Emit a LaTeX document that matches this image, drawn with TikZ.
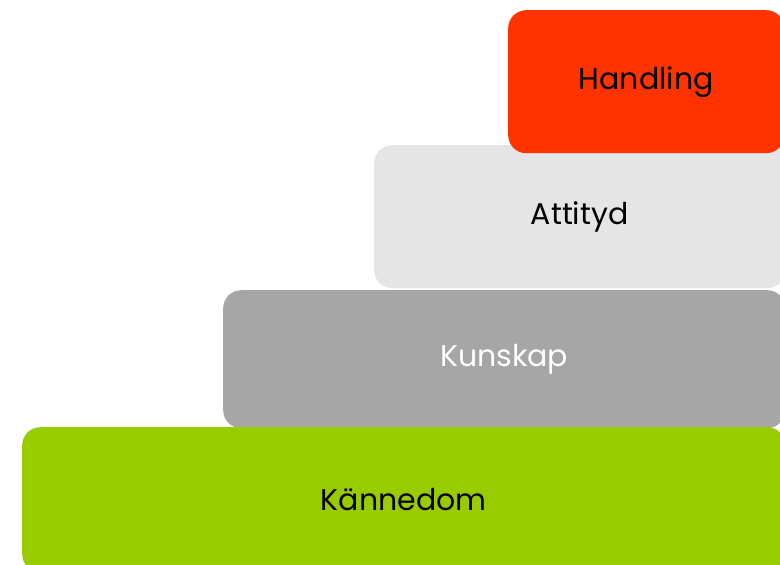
\documentclass[tikz,border=0pt]{standalone}
\usepackage{fontspec}
\setmainfont{Poppins}
\definecolor{handlingred}{HTML}{FF3300}
\definecolor{attitydgray}{HTML}{E5E5E5}
\definecolor{kunskapgray}{HTML}{A6A6A6}
\definecolor{kannedomgreen}{HTML}{99CC00}
\tikzset{
  stegbox/.style={rectangle, rounded corners=18pt, inner sep=0pt, anchor=north west,
    font=\fontsize{30}{33}\selectfont}
}

\begin{document}
\begin{tikzpicture}[x=1pt, y=-1pt]
   \useasboundingbox (0,0) rectangle (780,565);
   \clip (0,0) rectangle (780,565);

   \node[stegbox, fill=kunskapgray, text=white, minimum width=562pt, minimum height=138pt] (kunskap) at (223,290) {Kunskap};
   \node[stegbox, fill=kannedomgreen, text=black, minimum width=763pt, minimum height=145pt] (kannedom) at (22,427) {Kännedom};
   \node[stegbox, fill=attitydgray, text=black, minimum width=411pt, minimum height=143pt] (attityd) at (374,145) {Attityd};
   \node[stegbox, fill=handlingred, text=black, minimum width=276pt, minimum height=143pt] (handling) at (508,10) {Handling};
\end{tikzpicture}
\end{document}
